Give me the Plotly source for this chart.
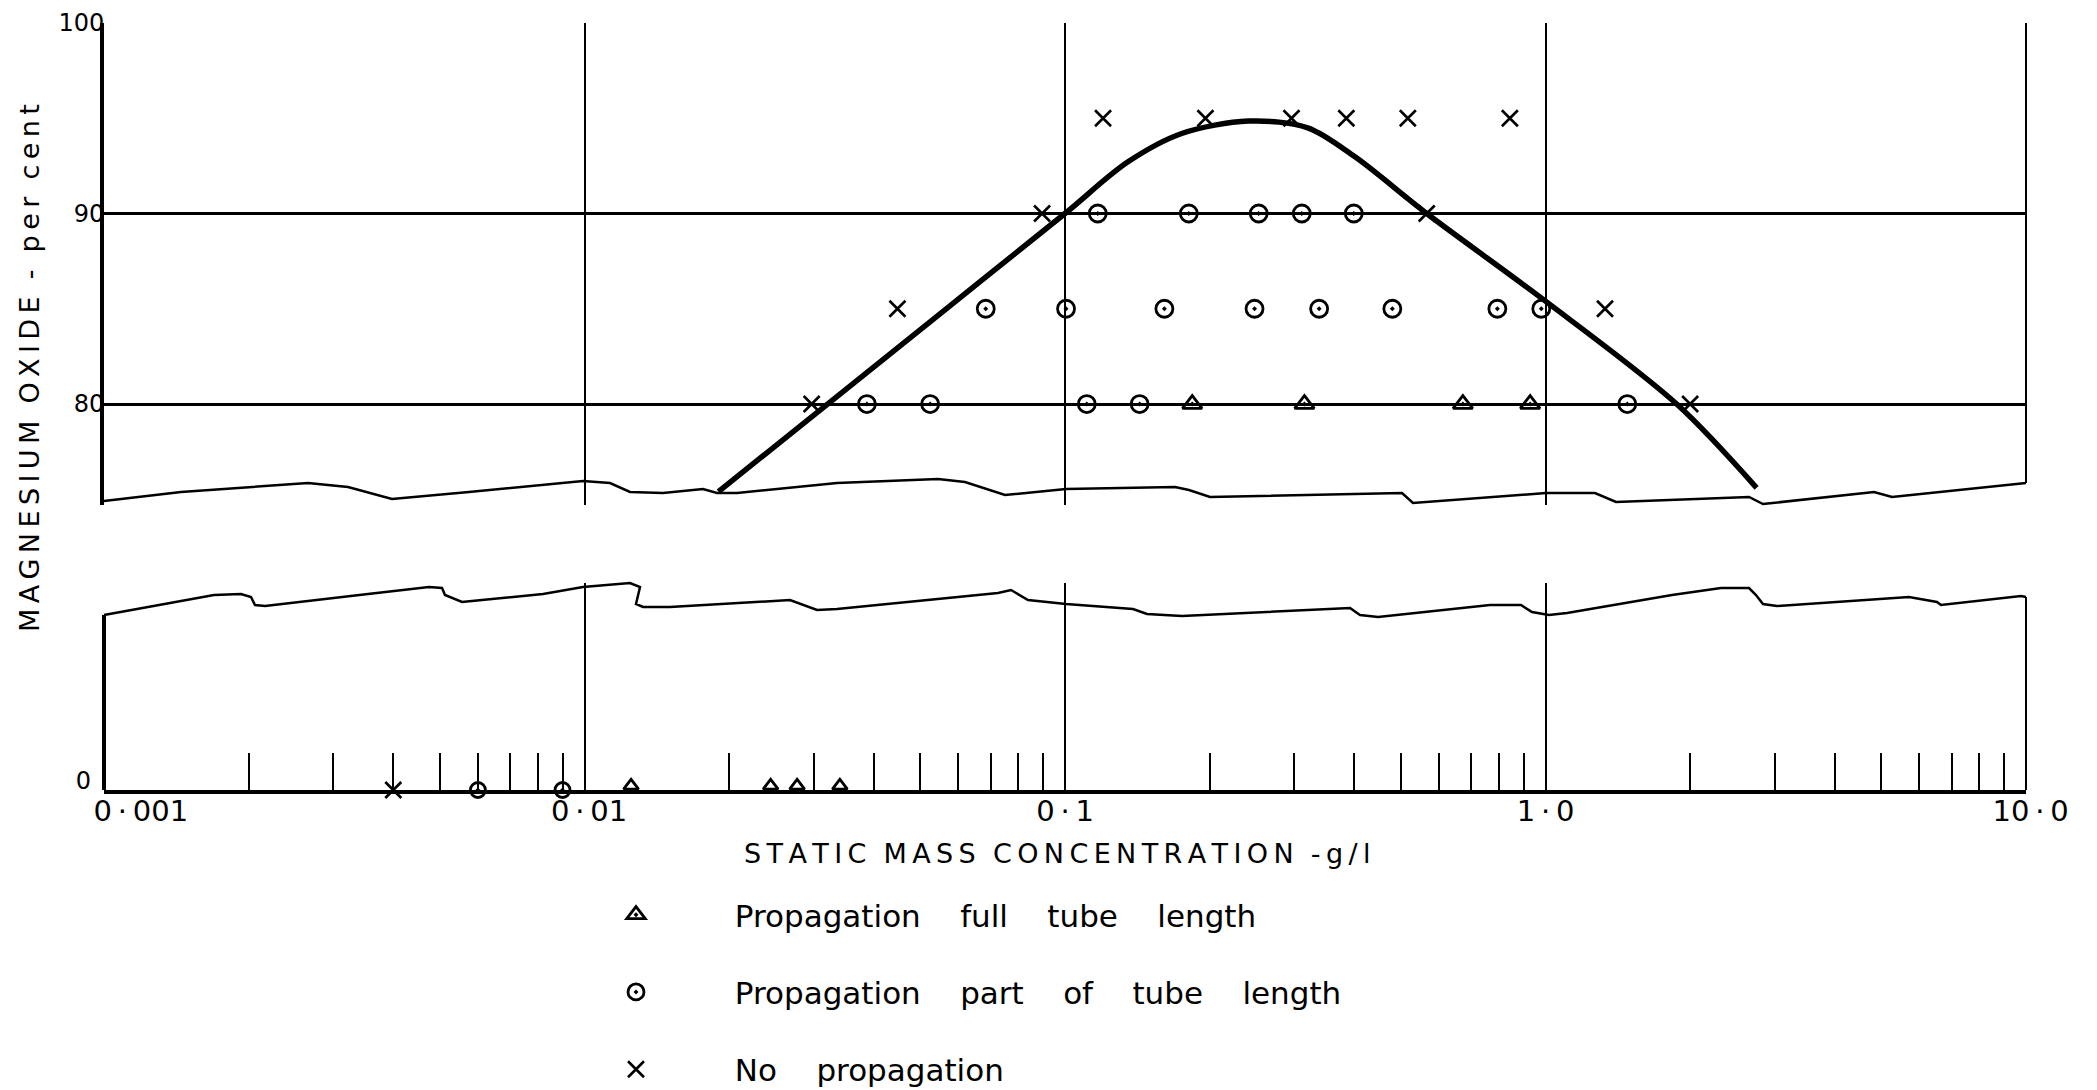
import plotly.graph_objects as go

# ---------------- data ----------------
tri_x = [0.184, 0.315, 0.673, 0.929]
tri_y = [80, 80, 80, 80]

circ_x = [0.117, 0.181, 0.253, 0.311, 0.399,
          0.0684, 0.1005, 0.161, 0.248, 0.338, 0.480, 0.794, 0.98,
          0.0387, 0.0524, 0.111, 0.143, 1.48]
circ_y = [90, 90, 90, 90, 90,
          85, 85, 85, 85, 85, 85, 85, 85,
          80, 80, 80, 80, 80]

cross_x = [0.12, 0.196, 0.296, 0.385, 0.517, 0.843,
           0.0896, 0.566,
           0.0448, 1.33,
           0.0297, 2.0]
cross_y = [95, 95, 95, 95, 95, 95,
           90, 90,
           85, 85,
           80, 80]

# points at 0 per cent (lower panel)
zero_cross_x = [0.004]
zero_circ_x = [0.006, 0.009]
zero_tri_x = [0.0125, 0.0244, 0.0277, 0.034]

# boundary curve
curve_x = [0.019, 0.0566, 0.1, 0.135, 0.175, 0.241, 0.32, 0.40, 0.566, 1.0, 1.875, 2.75]
curve_y = [75.4, 85.0, 90.0, 92.7, 94.2, 94.85, 94.5, 93.0, 90.0, 85.4, 80.0, 75.6]

decade_vals = [0.001, 0.01, 0.1, 1, 10]
MD = "\u2009\u00b7\u2009"
decade_text = ["\u00a0" * 8 + "0" + MD + "001", "\u00a00" + MD + "01", "0" + MD + "1",
               "1" + MD + "0", "\u00a010" + MD + "0"]
minor_vals = [m * d for d in [0.001, 0.01, 0.1, 1] for m in range(2, 10)]

y_ticks = [80, 90, 100]

# ---------------- layout geometry ----------------
W, H = 2097, 1090
OFF = 8                          # default page body margin
X0, X1 = 104, 2026               # plot area left/right on screen (px)
Y0 = 23                          # y = 100 on screen
Y_ZERO = 790                     # y = 0 on screen
L, T = X0 - OFF, Y0 - OFF
R, B = W - L - (X1 - X0), 0
PW = X1 - X0
Y1 = H + OFF - B                 # bottom of paper area on screen
PH = Y1 - Y0


def px(x):
    return (x - X0) / PW


def py(y):
    return (Y1 - y) / PH


upper_bottom = 505
lower_top = 583

# torn edges of the broken axis (decoration, screen px)
upper_tear = [(104, 501), (181, 492), (308, 483), (348, 487), (392, 499), (469, 492),
              (583, 481), (610, 483), (630, 492), (663, 493), (703, 489), (717, 493),
              (737, 493), (837, 483), (938, 479), (965, 482), (1005, 495), (1066, 489),
              (1175, 487), (1189, 490), (1210, 497), (1402, 493), (1413, 503), (1546, 493),
              (1595, 493), (1616, 502), (1749, 497), (1763, 504), (1874, 492), (1892, 497),
              (2026, 483)]
lower_tear = [(104, 615), (214, 595), (241, 594), (251, 597), (255, 605), (265, 606),
              (368, 594), (429, 587), (442, 588), (445, 595), (462, 602), (482, 600),
              (543, 594), (583, 587), (630, 583), (640, 587), (636, 604), (643, 607),
              (670, 607), (790, 600), (817, 610), (837, 609), (998, 593), (1011, 590),
              (1028, 600), (1066, 604), (1133, 609), (1147, 614), (1182, 616), (1350, 608),
              (1360, 615), (1378, 617), (1490, 605), (1521, 605), (1532, 612), (1549, 615),
              (1567, 613), (1672, 595), (1721, 588), (1749, 588), (1756, 595), (1763, 604),
              (1777, 606), (1909, 597), (1937, 602), (1941, 605), (2021, 596), (2026, 597)]


def path_of(pts, close_pts=None):
    s = "M " + " L ".join(f"{px(a):.5f},{py(b):.5f}" for a, b in pts)
    if close_pts:
        s += " L " + " L ".join(f"{px(a):.5f},{py(b):.5f}" for a, b in close_pts) + " Z"
    return s


def spaced(text, letter="\u2009", word="\u00a0\u00a0"):
    return word.join(letter.join(w) for w in text.split(" "))


def wide(text, n=4):
    return ("\u00a0" * n).join(text.split(" "))


FONT = "DejaVu Sans"
fig = go.Figure()

mk_line = dict(color="black", width=2.8)
x_line = dict(color="black", width=2.6)

# upper panel
fig.add_trace(go.Scatter(x=curve_x, y=curve_y, mode="lines",
                         line=dict(color="black", width=5.5, shape="spline", smoothing=0.9),
                         showlegend=False, xaxis="x", yaxis="y", hoverinfo="skip"))
fig.add_trace(go.Scatter(x=tri_x, y=tri_y, mode="markers", name=wide("Propagation full tube length"),
                         marker=dict(symbol="triangle-up-open-dot", size=17, color="black", line=mk_line),
                         legendgroup="a", xaxis="x", yaxis="y", cliponaxis=False))
fig.add_trace(go.Scatter(x=circ_x, y=circ_y, mode="markers", name=wide("Propagation part of tube length"),
                         marker=dict(symbol="circle-open-dot", size=17, color="black", line=mk_line),
                         legendgroup="b", xaxis="x", yaxis="y", cliponaxis=False))
fig.add_trace(go.Scatter(x=cross_x, y=cross_y, mode="markers", name=wide("No propagation"),
                         marker=dict(symbol="x-thin-open", size=16, color="black", line=x_line),
                         legendgroup="c", xaxis="x", yaxis="y", cliponaxis=False))

# lower panel
fig.add_trace(go.Scatter(x=zero_cross_x, y=[0] * len(zero_cross_x), mode="markers", showlegend=False,
                         marker=dict(symbol="x-thin-open", size=16, color="black", line=x_line),
                         xaxis="x2", yaxis="y2", cliponaxis=False))
fig.add_trace(go.Scatter(x=zero_circ_x, y=[0] * len(zero_circ_x), mode="markers", showlegend=False,
                         marker=dict(symbol="circle-open-dot", size=15, color="black", line=mk_line),
                         xaxis="x2", yaxis="y2", cliponaxis=False))
fig.add_trace(go.Scatter(x=zero_tri_x, y=[0.02] * len(zero_tri_x), mode="markers", showlegend=False,
                         marker=dict(symbol="triangle-up-open", size=13, color="black", line=mk_line),
                         xaxis="x2", yaxis="y2", cliponaxis=False))

NOFILL = "rgba(0,0,0,0)"
shapes = [
    # white masks beyond torn edges (hide grid lines there)
    dict(type="path", xref="paper", yref="paper", layer="between", opacity=1,
         path=path_of(upper_tear, [(2030, 512), (100, 512)]), fillcolor="white",
         line=dict(width=0, color=NOFILL)),
    dict(type="path", xref="paper", yref="paper", layer="between", opacity=1,
         path=path_of(lower_tear[::-1], [(100, 578), (2030, 578)]), fillcolor="white",
         line=dict(width=0, color=NOFILL)),
    # torn edges
    dict(type="path", xref="paper", yref="paper", layer="above", opacity=1, fillcolor=NOFILL,
         path=path_of(upper_tear), line=dict(color="black", width=2.5)),
    dict(type="path", xref="paper", yref="paper", layer="above", opacity=1, fillcolor=NOFILL,
         path=path_of(lower_tear), line=dict(color="black", width=2.5)),
    # left axis of lower panel (up to torn edge)
    dict(type="line", xref="paper", yref="paper", layer="above", opacity=1,
         x0=0, x1=0, y0=py(Y_ZERO), y1=py(lower_tear[0][1]), line=dict(color="black", width=4)),
    # right-hand 10.0 grid line in both panels
    dict(type="line", xref="paper", yref="paper", layer="above", opacity=1,
         x0=1, x1=1, y0=py(upper_tear[-1][1]), y1=1, line=dict(color="black", width=2)),
    dict(type="line", xref="paper", yref="paper", layer="above", opacity=1,
         x0=1, x1=1, y0=py(Y_ZERO), y1=py(lower_tear[-1][1]), line=dict(color="black", width=2)),
]

fig.update_layout(
    width=W, height=H,
    margin=dict(l=L, r=R, t=T, b=B, autoexpand=False),
    paper_bgcolor="white", plot_bgcolor="white",
    font=dict(family=FONT, color="black"),
    shapes=shapes,
    xaxis=dict(type="log", range=[-3, 1], domain=[0, 1], anchor="y", automargin=False,
               tickvals=decade_vals, showticklabels=False, ticks="",
               showgrid=True, gridcolor="black", gridwidth=2, zeroline=False, showline=False),
    yaxis=dict(range=[74.7, 100], domain=[py(upper_bottom), 1], anchor="x", automargin=False,
               tickvals=y_ticks, ticktext=[str(v) for v in y_ticks], ticks="",
               showgrid=True, gridcolor="black", gridwidth=3, zeroline=False,
               showline=True, linecolor="black", linewidth=4,
               tickfont=dict(family=FONT, size=24, color="black"), ticklabelstandoff=-9),
    xaxis2=dict(type="log", range=[-3, 1], domain=[0, 1], anchor="y2", automargin=False,
                tickvals=decade_vals, ticktext=decade_text, ticks="",
                showgrid=True, gridcolor="black", gridwidth=2, zeroline=False,
                showline=True, linecolor="black", linewidth=4,
                tickfont=dict(family=FONT, size=29, color="black"),
                ticklabelstandoff=-8,
                minor=dict(tickvals=minor_vals, ticks="inside", ticklen=37, tickwidth=2,
                           tickcolor="black", showgrid=False)),
    yaxis2=dict(range=[0, 1], domain=[py(Y_ZERO), py(lower_top)], anchor="x2", automargin=False,
                tickvals=[0], ticktext=["0"], ticks="", showgrid=False, zeroline=False,
                showline=False, tickfont=dict(family=FONT, size=24, color="black"),
                ticklabelstandoff=12, ticklabelshift=-9),
    legend=dict(x=px(616), y=py(1096), xanchor="left", yanchor="bottom",
                font=dict(family=FONT, size=31, color="black"), tracegroupgap=34,
                bgcolor="rgba(0,0,0,0)", itemsizing="trace"),
    annotations=[
        dict(text=spaced("MAGNESIUM OXIDE - per cent"), textangle=-90,
             xref="paper", yref="paper", x=px(29), y=py(368), showarrow=False,
             xanchor="center", yanchor="middle", font=dict(family=FONT, size=27, color="black")),
        dict(text=spaced("STATIC MASS CONCENTRATION -g/l"),
             xref="paper", yref="paper", x=px(1057), y=py(853), showarrow=False,
             xanchor="center", yanchor="middle", font=dict(family=FONT, size=27, color="black")),
    ],
)

# legend symbol/text spacing
for tr in fig.data:
    if tr.showlegend is not False and tr.name:
        tr.name = "\u00a0" * 8 + tr.name

fig.write_html("out.html")
